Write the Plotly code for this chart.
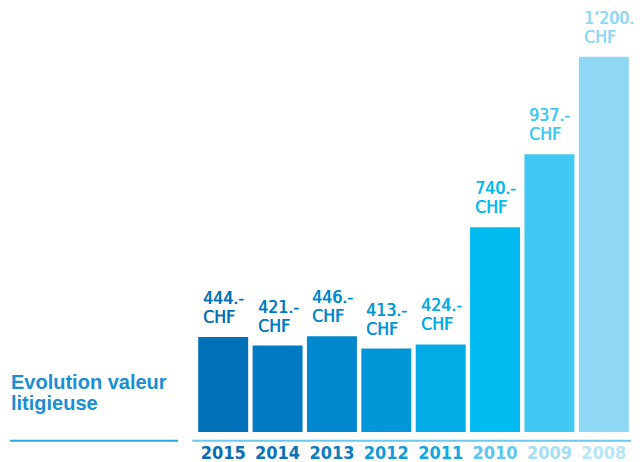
import plotly.graph_objects as go

years = ["2015", "2014", "2013", "2012", "2011", "2010", "2009", "2008"]
values = [444, 421, 446, 413, 424, 740, 937, 1200]
value_labels = ["444.-", "421.-", "446.-", "413.-", "424.-", "740.-", "937.-", "1’200.-"]
unit = "CHF"
title_lines = ["Evolution valeur", "litigieuse"]
bar_colors = ["#0070b8", "#007bc3", "#0087cd", "#0096d8", "#00abe6", "#00bbef", "#41c8f3", "#8ed8f6"]
year_colors = ["#0a6db3", "#0a73b8", "#0a7dc0", "#139bd9", "#11a7e2", "#5cc6ef", "#a6def6", "#b7e5f8"]

FONT = "DejaVu Sans Condensed, Roboto, sans-serif"
W, H = 634, 454
ml, mr, mt, mb = 188, 11, 12, 30
pw = W - ml - mr
ph = H - mt - mb
pos = list(range(len(years)))

fig = go.Figure(go.Bar(
    x=pos, y=values, marker=dict(color=bar_colors, line=dict(width=0)),
    hoverinfo="skip",
))

for p, v, lab, c in zip(pos, values, value_labels, bar_colors):
    for txt, ys in ((lab, 27), (unit, 8)):
        fig.add_annotation(
            x=p, y=v, text=txt, showarrow=False,
            xanchor="left", yanchor="bottom", align="left",
            xshift=-22, yshift=ys,
            font=dict(family=FONT, size=17.5, color=c, shadow=f"0.6px 0 0 {c}"),
        )

for line, bottom in zip(title_lines, [387, 407.5]):
    fig.add_annotation(
        xref="paper", yref="paper", x=(1 - ml) / pw, y=(H - mb - bottom) / ph,
        text=line, showarrow=False,
        xanchor="left", yanchor="bottom", align="left",
        font=dict(family="Liberation Sans", size=20, color="#1a8ed3", weight="bold"),
    )

line_y = -8.7 / ph
fig.add_shape(type="line", xref="paper", yref="paper",
              x0=(2 - ml) / pw, x1=(170 - ml) / pw, y0=line_y, y1=line_y,
              line=dict(color="#2aa5e0", width=2))
fig.add_shape(type="line", xref="paper", yref="paper",
              x0=(184.3 - ml) / pw, x1=(623 - ml) / pw, y0=line_y, y1=line_y,
              line=dict(color="#6cc8ef", width=2))

fig.update_layout(
    width=W, height=H,
    margin=dict(l=ml, r=mr, t=mt, b=mb, pad=0),
    paper_bgcolor="white", plot_bgcolor="white",
    bargap=0.081, showlegend=False,
    xaxis=dict(
        range=[-0.5, len(years) - 0.5], automargin=False,
        tickmode="array", tickvals=pos,
        ticktext=[f"<span style='color:{c}'>{y}</span>" for y, c in zip(years, year_colors)],
        tickfont=dict(family=FONT, size=18, weight="bold"),
        ticks="outside", ticklen=4, tickcolor="rgba(0,0,0,0)",
        showline=False, showgrid=False, zeroline=False,
    ),
    yaxis=dict(range=[188, 188 + ph / 0.3708], visible=False, automargin=False),
)

fig.write_html("out.html")
